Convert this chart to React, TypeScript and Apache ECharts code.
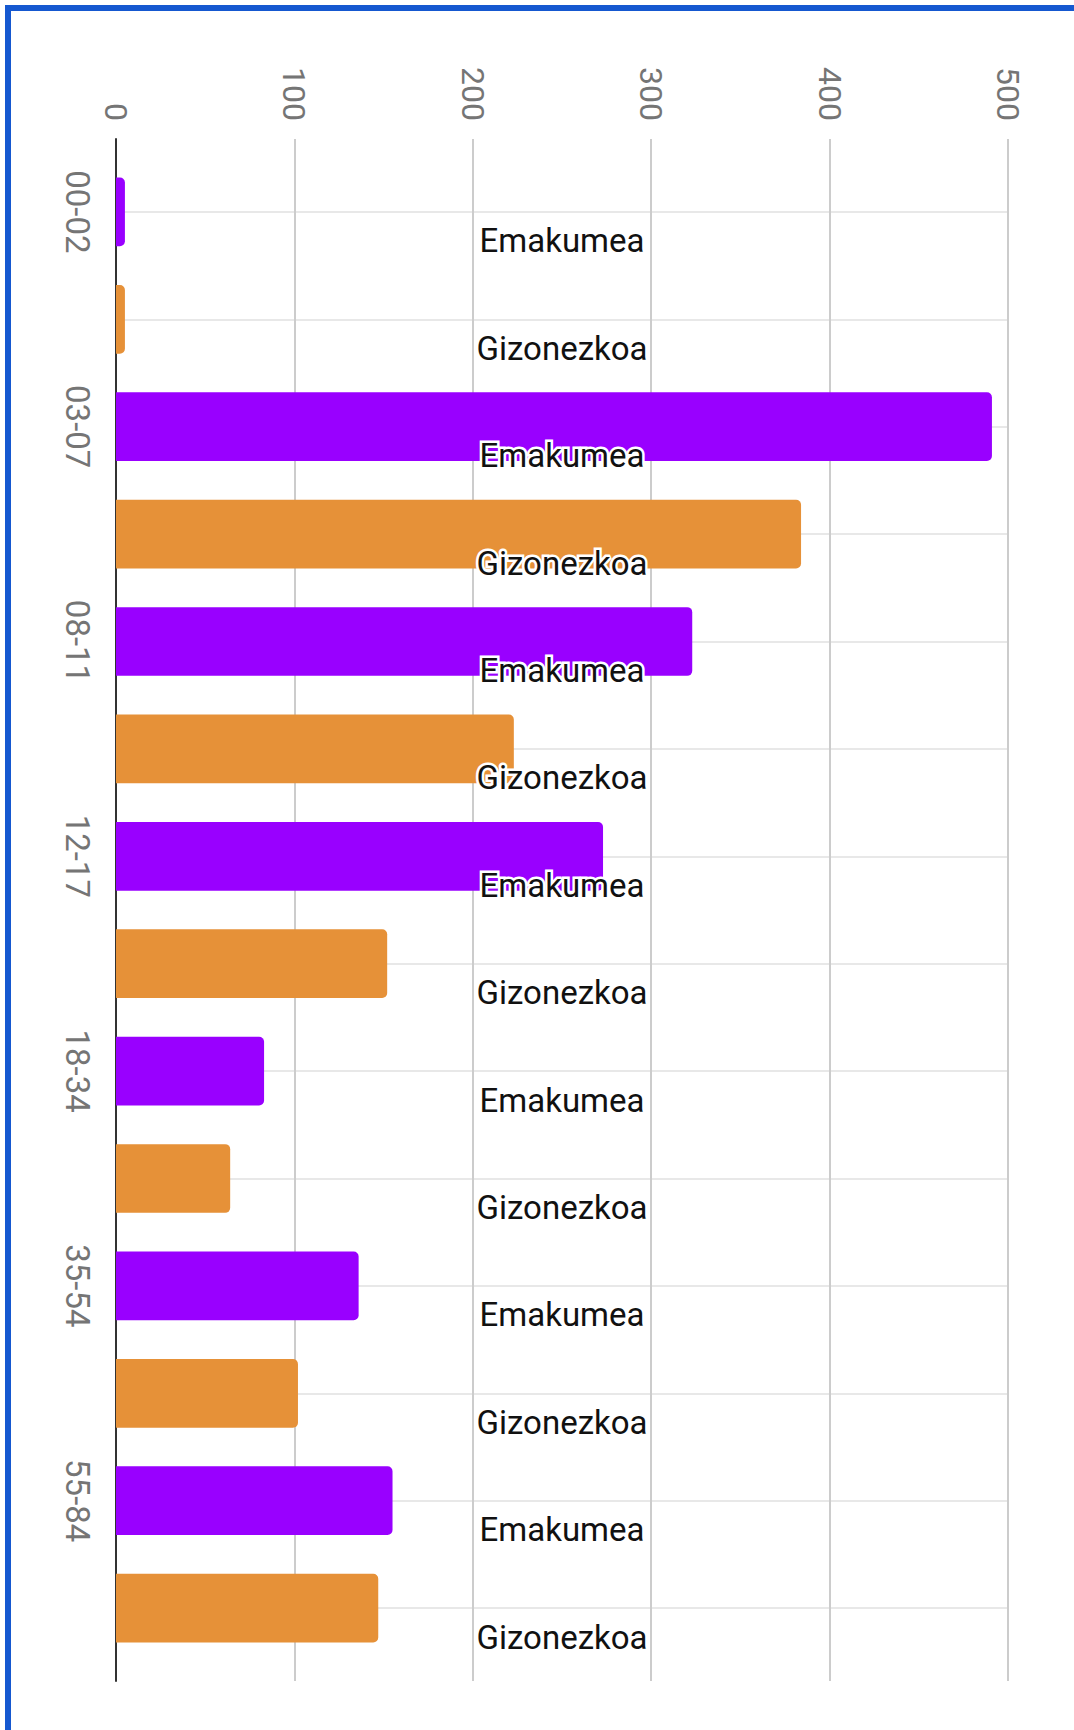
import React, { useEffect, useRef } from "react";
import * as echarts from "echarts";

const ageGroups = ["00-02", "03-07", "08-11", "12-17", "18-34", "35-54", "55-84"];
const women = [5, 491, 323, 273, 83, 136, 155];
const men = [5, 384, 223, 152, 64, 102, 147];
const genderLabels = ["Emakumea", "Gizonezkoa"];
const genderColors = ["#9900ff", "#e69138"];
const xMin = 0;
const xMax = 500;
const xInterval = 100;

const W = 1074;
const H = 1730;
const plotLeft = 116;
const plotRight = 1008;
const plotTop = 139;
const plotBottom = 1681;
const bandH = 107.4;

export default function App() {
  const ref = useRef<HTMLDivElement>(null);
  useEffect(() => {
    const chart = echarts.init(ref.current!, null, { renderer: "svg" });
    const rows: string[] = [];
    ageGroups.forEach((a) => genderLabels.forEach((g) => rows.push(a + "|" + g)));
    const n = rows.length;
    const mid = (plotTop + plotBottom) / 2;
    const barsTop = mid - (n / 2) * bandH;
    const barsBottom = mid + (n / 2) * bandH;
    const font = "Roboto";

    const barData = rows.map((_, i) => ({
      value: i % 2 === 0 ? women[i >> 1] : men[i >> 1],
      itemStyle: { color: genderColors[i % 2], borderRadius: [0, 5, 5, 0] },
    }));
    const labelData = rows.map((_, i) => [(xMin + xMax) / 2, i]);

    const option: any = {
      animation: false,
      backgroundColor: "#ffffff",
      graphic: [
        { type: "rect", shape: { x: 5, y: 5, width: W - 5, height: 6 }, style: { fill: "#1558d0" }, z: 100 },
        { type: "rect", shape: { x: 5, y: 5, width: 6, height: H - 5 }, style: { fill: "#1558d0" }, z: 100 },
      ],
      grid: [
        { left: plotLeft, right: W - plotRight, top: plotTop, bottom: H - plotBottom },
        { left: plotLeft, right: W - plotRight, top: barsTop, bottom: H - barsBottom },
        { left: plotLeft, right: W - plotRight, top: barsTop + bandH / 2, bottom: H - barsBottom + bandH / 2 },
      ],
      xAxis: [
        {
          gridIndex: 0,
          type: "value",
          position: "top",
          min: xMin,
          max: xMax,
          interval: xInterval,
          axisLine: { show: false },
          axisTick: { show: false },
          axisLabel: { rotate: -90, margin: 18, color: "#757575", fontSize: 32, fontFamily: font },
          splitLine: { show: true, lineStyle: { color: "#cccccc", width: 2 } },
        },
        { gridIndex: 1, type: "value", min: xMin, max: xMax, show: false },
        { gridIndex: 2, type: "value", min: xMin, max: xMax, show: false },
      ],
      yAxis: [
        {
          gridIndex: 0,
          type: "value",
          axisLine: { show: true, lineStyle: { color: "#333333", width: 2 } },
          axisTick: { show: false },
          axisLabel: { show: false },
          splitLine: { show: false },
        },
        {
          gridIndex: 1,
          type: "category",
          inverse: true,
          data: rows,
          axisLine: { show: false },
          axisTick: { show: false },
          splitLine: { show: false },
          axisLabel: {
            rotate: -90,
            margin: 22,
            interval: 0,
            color: "#757575",
            fontSize: 33,
            fontFamily: font,
            formatter: (v: string, i: number) => (i % 2 === 0 ? v.split("|")[0] : ""),
          },
        },
        {
          gridIndex: 2,
          type: "category",
          inverse: true,
          boundaryGap: false,
          data: rows,
          axisLine: { show: false },
          axisTick: { show: false },
          axisLabel: { show: false },
          splitLine: { show: true, interval: 0, lineStyle: { color: "#e8e8e8", width: 2 } },
        },
      ],
      series: [
        {
          type: "bar",
          xAxisIndex: 1,
          yAxisIndex: 1,
          barCategoryGap: "36%",
          data: barData,
          z: 2,
        },
        {
          type: "custom",
          xAxisIndex: 1,
          yAxisIndex: 1,
          data: labelData,
          z: 5,
          silent: true,
          renderItem: (params: any, api: any) => {
            const pt = api.coord([api.value(0), api.value(1)]);
            return {
              type: "text",
              x: pt[0],
              y: pt[1] + 29,
              style: {
                text: genderLabels[params.dataIndex % 2],
                fill: "#111111",
                stroke: "#ffffff",
                lineWidth: 5,
                fontSize: 33,
                fontFamily: font,
                align: "center",
                verticalAlign: "middle",
              },
            };
          },
        },
      ],
    };
    chart.setOption(option);
    return () => chart.dispose();
  }, []);
  return (
    <div
      ref={ref}
      style={{ position: "absolute", left: 0, top: 0, width: W, height: H, background: "#ffffff" }}
    />
  );
}
